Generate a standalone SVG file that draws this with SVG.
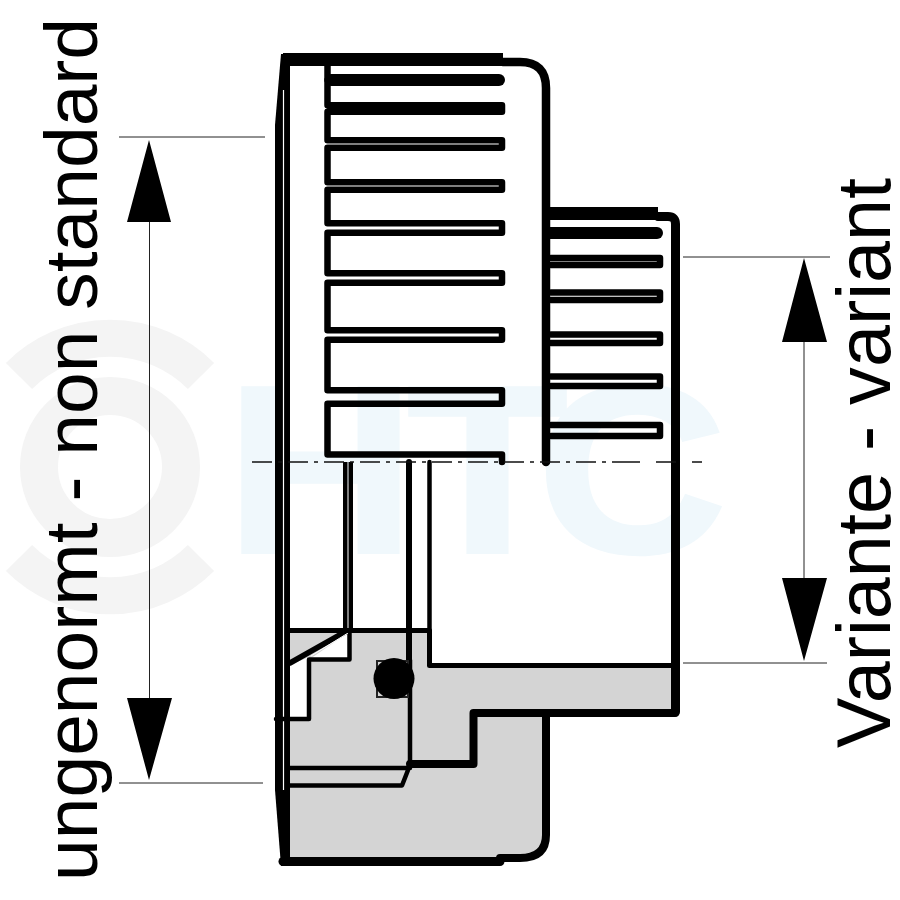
<svg xmlns="http://www.w3.org/2000/svg" width="900" height="900" viewBox="0 0 900 900">
<style>
.l{fill:none;stroke:#000;stroke-linejoin:round;stroke-linecap:round}
.b{stroke-linecap:butt}
.t{fill:none;stroke:#222;stroke-width:1}
.lab{font-family:"Liberation Sans",Arial,sans-serif;fill:#000}
</style>
<rect width="900" height="900" fill="#fff"/>
<g id="watermark">
<circle cx="110" cy="467" r="71" fill="none" stroke="#f4f4f4" stroke-width="38"/>
<path d="M19,376A128.500,128.500 0 0 1 201,376M19,558A128.500,128.500 0 0 0 201,558" fill="none" stroke="#f4f4f4" stroke-width="37"/>
<text transform="translate(226,552) scale(1.1,1)" x="0 165 283" y="0" font-family="'Liberation Sans',Arial,sans-serif" font-weight="bold" font-size="238" fill="#f0f8fc" stroke="#f0f8fc" stroke-width="4">HTC</text>
</g>
<g id="section">
<path d="M290,630H428V665H675V712H546V835Q546,858 520,858L500,861H290Z" fill="#d4d4d4"/>
<path d="M349,632V659H310Z" fill="#fff"/>
<path d="M290,665L309,657V718H290Z" fill="#fff"/>
</g>
<g id="body">
<path d="M281,54L275,125V790L281,866H290V54Z" fill="#000"/>
<path d="M283.500,90V790" stroke="#fff" stroke-width="1.200" fill="none"/>
<path class="l b" d="M283,59.500H503" stroke-width="13"/>
<path class="l" d="M503,62H520Q546,62 546,88V462" stroke-width="8.500"/>
<path class="l" d="M283,861.500H500" stroke-width="9"/>
<path class="l" d="M500,858H520Q546,858 546,835V713" stroke-width="8"/>
<path class="l" d="M546,713H473.500V764H410" stroke-width="8"/>
<path class="l" d="M546,713H675" stroke-width="8"/>
<path class="l b" d="M546,213.500H658" stroke-width="13"/>
<path class="l" d="M658,216.500H668Q675.500,216.500 675.500,224V712" stroke-width="9"/>
<path class="l" d="M327.500,66V80" stroke-width="6.500"/>
<path class="l" d="M331,80H499" stroke-width="12"/>
<path class="l" d="M327.500,80V105.250H502V111.750H327.500V140.250H502V147.750H327.500V182.250H502V189.750H327.500V223.250H502V232.750H327.500V273.250H502V282.750H327.500V330.250H502V339.750H327.500V390.250H502V403.750H327.500V454.500H502V462" stroke-width="6.500"/>
<path class="l" d="M548,233H657" stroke-width="12"/>
<path class="l" d="M551,258H660V265H551M551,292.500H660V300H551M551,334.500H660V343H551M551,376.500H660V386H551M551,425H660V436H551" stroke-width="6.500"/>
<path class="l b" d="M345.250,462V630M350.750,462V632" stroke-width="4.500"/>
<path class="l" d="M349.500,630V659.500H309V719H276" stroke-width="4.500"/>
<path class="l" d="M345,632L290,663" stroke-width="5.500"/>
<path d="M311,656L348,633" stroke="#fff" stroke-width="1" fill="none"/>
<path class="l" d="M290,630.500H429.500V665.500H675" stroke-width="5"/>
<path class="l" d="M429.500,462V630" stroke-width="4.500"/>
<path class="l" d="M409,462V660" stroke-width="6"/>
<path class="l" d="M410,660V765L402,785.500H290M410,768H290" stroke-width="4.500"/>
</g>
<g id="oring">
<rect x="377" y="661" width="31" height="36" fill="#d4d4d4" stroke="#222" stroke-width="2"/>
<circle cx="394" cy="678.500" r="20.500" fill="#000"/>
</g>
<g id="axis">
<path d="M252,462H620" stroke="#111" stroke-width="1.500" stroke-dasharray="20 6 4 6" fill="none"/>
<path d="M620,462H702" stroke="#111" stroke-width="1.500" stroke-dasharray="20 16" fill="none"/>
</g>
<g id="connectors">
<path class="t" d="M119,137H265M119,783H263M683,257H830M683,663H827M149.500,222V698M804,342V578"/>
<path d="M149,140L171,222H127ZM149,780L172,698H127ZM804,258L827,342H782ZM804,661L827,578H782Z" fill="#000"/>
</g>
<text class="lab" font-size="75" transform="translate(97,881) rotate(-90)">ungenormt - non standard</text>
<text class="lab" font-size="75.600" transform="translate(890,748) rotate(-90)">Variante - variant</text>
</svg>
